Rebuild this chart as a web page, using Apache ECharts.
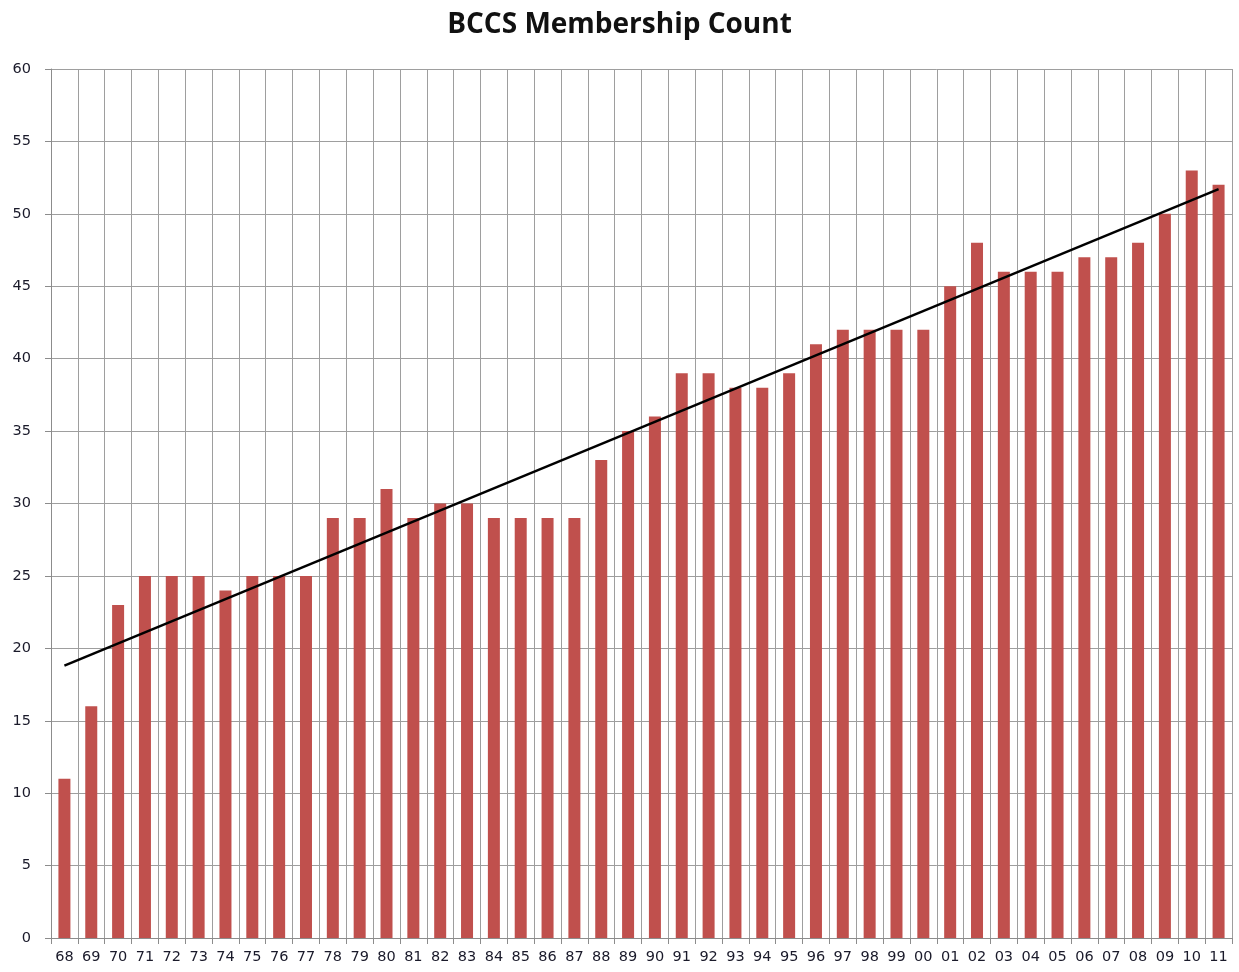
<!DOCTYPE html>
<html>
<head>
<meta charset="utf-8">
<title>BCCS Membership Count</title>
<script src="https://cdn.jsdelivr.net/npm/echarts@6/dist/echarts.min.js"></script>
<style>
  html, body { margin: 0; padding: 0; background: #fff; }
  #chart { width: 1239px; height: 972px; }
</style>
</head>
<body>
<div id="chart"></div>
<script>
// years (two-digit labels, 1968 - 2011)
const years = ['68', '69', '70', '71', '72', '73', '74', '75', '76', '77',
  '78', '79', '80', '81', '82', '83', '84', '85', '86', '87',
  '88', '89', '90', '91', '92', '93', '94', '95', '96', '97',
  '98', '99', '00', '01', '02', '03', '04', '05', '06', '07',
  '08', '09', '10', '11'];

// members per year
const members = [11, 16, 23, 25, 25, 25, 24, 25, 25, 25,
  29, 29, 31, 29, 30, 30, 29, 29, 29, 29,
  33, 35, 36, 39, 39, 38, 38, 39, 41, 42,
  42, 42, 42, 45, 48, 46, 46, 46, 47, 47,
  48, 50, 53, 52];

// trend line ends
const trendStart = 18.8;
const trendEnd = 51.7;

const chart = echarts.init(document.getElementById('chart'));

chart.setOption({
  animation: false,
  title: {
    text: 'BCCS Membership Count',
    left: 'center',
    top: 6,
    textStyle: {
      fontFamily: 'Open Sans',
      fontWeight: 'bold',
      fontSize: 28,
      color: '#111'
    }
  },
  grid: { left: 51, right: 7, top: 69, bottom: 34 },
  xAxis: {
    type: 'category',
    data: years,
    boundaryGap: true,
    axisLine: { lineStyle: { color: '#8c8c8c', width: 1 } },
    axisTick: { show: true, alignWithLabel: false, length: 6, lineStyle: { color: '#8c8c8c' } },
    axisLabel: { interval: 0, color: '#1a1a2a', fontFamily: 'DejaVu Sans', fontSize: 14.5, margin: 12 },
    splitLine: { show: true, interval: 0, lineStyle: { color: '#9e9e9e', width: 1 } }
  },
  yAxis: {
    type: 'value',
    min: 0,
    max: 60,
    interval: 5,
    axisLine: { show: true, lineStyle: { color: '#8c8c8c' } },
    axisTick: { show: true, length: 6, lineStyle: { color: '#8c8c8c' } },
    axisLabel: { color: '#1a1a2a', fontFamily: 'DejaVu Sans', fontSize: 14.5, margin: 20 },
    splitLine: { lineStyle: { color: '#9e9e9e', width: 1 } }
  },
  series: [{
    type: 'bar',
    data: members,
    barWidth: 12,
    itemStyle: { color: '#c0504d' },
    markLine: {
      silent: true,
      symbol: 'none',
      label: { show: false },
      lineStyle: { color: '#000', width: 2.5, type: 'solid' },
      data: [[
        { coord: [years[0], trendStart] },
        { coord: [years[years.length - 1], trendEnd] }
      ]]
    }
  }]
});
</script>
</body>
</html>
